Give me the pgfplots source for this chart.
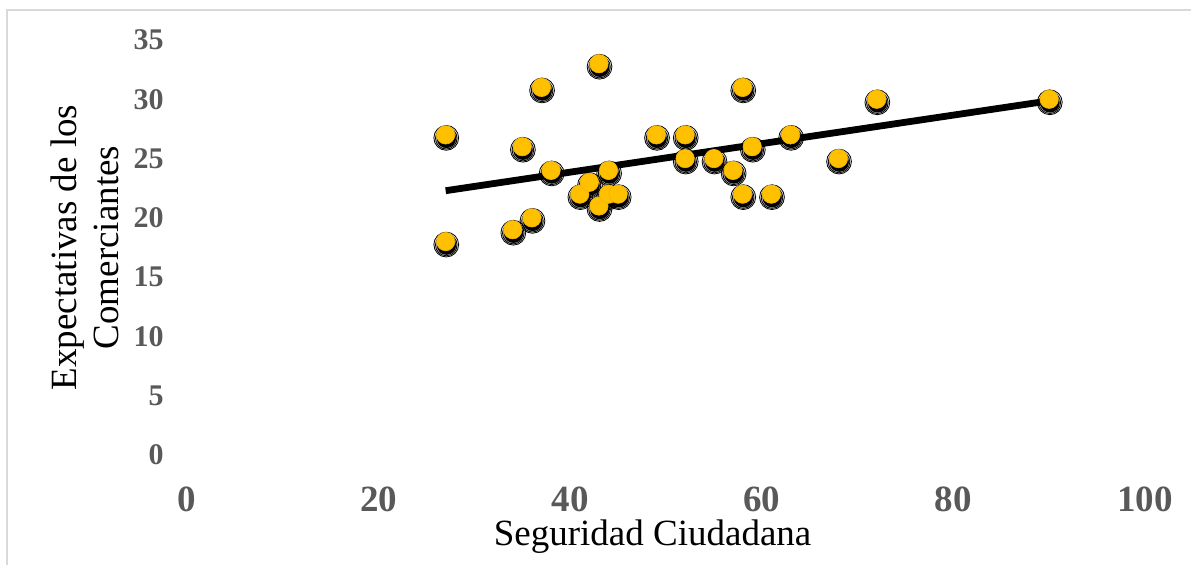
\documentclass[border=0pt]{standalone}
\usepackage{fontspec}
\setmainfont{Liberation Serif}
\usepackage{pgfplots}
\pgfplotsset{compat=1.18}
\definecolor{gold}{HTML}{FFC000}
\definecolor{goldedge}{HTML}{F2B400}
\definecolor{tickgray}{HTML}{595959}
\definecolor{framegray}{HTML}{D9D9D9}
\begin{document}
\begin{tikzpicture}
\draw[framegray, line width=0.8pt] (3.5pt,-20pt) rectangle (620pt,277pt);
\begin{axis}[
  at={(93.5pt,54.5pt)}, anchor=south west,
  scale only axis, width=479pt, height=207.5pt,
  xmin=0, xmax=100, ymin=0, ymax=35,
  enlargelimits=false,
  axis line style={draw=none},
  tick style={draw=none},
  xtick={0,20,40,60,80,100},
  ytick={0,5,10,15,20,25,30,35},
  /pgf/number format/assume math mode=true,
  xticklabel style={font=\fontsize{18.5}{20}\selectfont\bfseries, text=tickgray, anchor=north, inner sep=0pt, yshift=-15.5pt},
  yticklabel style={font=\fontsize{15}{17}\selectfont\bfseries, text=tickgray, anchor=east, inner sep=0pt, xshift=-11.5pt},
  xlabel={Seguridad Ciudadana},
  ylabel={Expectativas de los\\Comerciantes},
  every axis x label/.style={at={(axis description cs:0.486,-0.219)}, anchor=base, inner sep=0pt, font=\fontsize{18.5}{21}\selectfont},
  every axis y label/.style={at={(axis description cs:-0.071,0.5)}, rotate=90, anchor=south, inner sep=0pt, align=center, font=\fontsize{18.5}{21}\selectfont},
  clip=false,
]
\pgfplotstableread{
x y
27 27
27 18
34 19
35 26
36 20
37 31
38 24
41 22
42 23
43 33
43 21
44 24
44 22
45 22
49 27
52 27
52 25
55 25
57 24
58 31
58 22
59 26
61 22
63 27
68 25
72 30
90 30
}\data
% soft halo
\addplot[only marks, mark=*, mark size=6.2pt, mark options={fill=black, draw=none, fill opacity=0.07, yshift=-1.5pt, xshift=0.3pt}] table {\data};
\addplot[only marks, mark=*, mark size=5.4pt, mark options={fill=black, draw=none, fill opacity=0.25, yshift=-1.7pt, xshift=0.3pt}] table {\data};
% dark shadow
\addplot[only marks, mark=*, mark size=4.6pt, mark options={fill=black, draw=none, yshift=-1.8pt, xshift=0.4pt}] table {\data};
% gold markers
\addplot[only marks, mark=*, mark size=4.6pt, mark options={fill=gold, draw=goldedge, line width=0.3pt}] table {\data};
% trend line
\addplot[black, line width=3.4pt, no marks] coordinates {(27,22.29) (90,29.87)};
\end{axis}
\pgfresetboundingbox
\path[use as bounding box] (0,0) rectangle (595.5pt,282pt);
\end{tikzpicture}
\end{document}
